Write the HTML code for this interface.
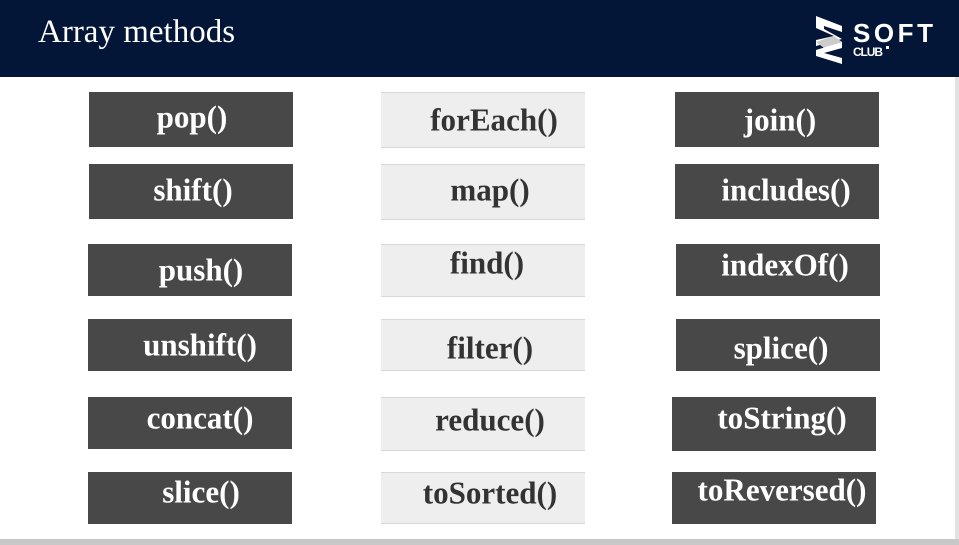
<!DOCTYPE html>
<html><head><meta charset="utf-8"><style>
body{margin:0;width:959px;height:545px;overflow:hidden;background:#fff;position:relative;font-family:"Liberation Serif",serif;}
.hdr{position:absolute;left:0;top:0;width:959px;height:77px;background:#031637;}
.title{position:absolute;left:38px;top:14px;color:#fff;font-size:33px;font-family:"Liberation Serif",serif;white-space:nowrap;}
.b{position:absolute;width:204px;}
.d{background:#484848;}
.l{background:#eeeeee;border-top:1px solid #d8d8d8;border-bottom:1px solid #d8d8d8;box-sizing:border-box;}
.t{position:absolute;transform:translate(-50%,-50%) scaleX(0.97);font-weight:bold;font-size:32px;white-space:nowrap;}
.w{color:#fff}.k{color:#333}
.bot{position:absolute;left:0;top:539px;width:959px;height:6px;background:#c8c8c8;}
.rs{position:absolute;left:955px;top:77px;width:4px;height:468px;background:#e2e2e2;}
</style></head><body>
<div class="hdr"></div>
<div class="title">Array methods</div>
<svg style="position:absolute;left:812px;top:12px" width="130" height="56">
<polygon points="4,4 30,14 30,20 12,14 12,17 30,27 4,34 4,28 22,24 4,16" fill="#fff"/>
<polygon points="4,30 22,24 30,30 12,36" fill="#ccc"/>
<polygon points="4,38 30,30 30,36 12,41 30,46 30,52 4,44" fill="#fff"/>
<text x="41" y="30" fill="#fff" font-family="Liberation Sans" font-weight="bold" font-size="26" textLength="80">SOFT</text>
<text x="41" y="44" fill="#fff" font-family="Liberation Sans" font-weight="bold" font-size="12" textLength="30">CLUB</text>
<rect x="74" y="34" width="3" height="3" fill="#fff"/>
</svg>
<div class="rs"></div>
<div class="bot"></div>

<div class="b d" style="left:89px;top:92px;height:55px"></div>
<div class="b d" style="left:89px;top:164px;height:55px"></div>
<div class="b d" style="left:88px;top:244px;height:52px"></div>
<div class="b d" style="left:88px;top:319px;height:52px"></div>
<div class="b d" style="left:88px;top:397px;height:52px"></div>
<div class="b d" style="left:88px;top:472px;height:52px"></div>

<div class="b l" style="left:381px;top:92px;height:56px"></div>
<div class="b l" style="left:381px;top:164px;height:56px"></div>
<div class="b l" style="left:381px;top:244px;height:53px"></div>
<div class="b l" style="left:381px;top:319px;height:52px"></div>
<div class="b l" style="left:381px;top:397px;height:54px"></div>
<div class="b l" style="left:381px;top:472px;height:52px"></div>

<div class="b d" style="left:675px;top:92px;height:55px"></div>
<div class="b d" style="left:675px;top:164px;height:55px"></div>
<div class="b d" style="left:676px;top:244px;height:52px"></div>
<div class="b d" style="left:676px;top:319px;height:52px"></div>
<div class="b d" style="left:672px;top:397px;height:54px"></div>
<div class="b d" style="left:672px;top:472px;height:52px"></div>

<div class="t w" style="left:192px;top:117px">pop()</div>
<div class="t w" style="left:193px;top:190px">shift()</div>
<div class="t w" style="left:201px;top:270px">push()</div>
<div class="t w" style="left:200px;top:345px">unshift()</div>
<div class="t w" style="left:200px;top:418px">concat()</div>
<div class="t w" style="left:201px;top:492px">slice()</div>

<div class="t k" style="left:494px;top:120px">forEach()</div>
<div class="t k" style="left:490px;top:190px">map()</div>
<div class="t k" style="left:487px;top:263px">find()</div>
<div class="t k" style="left:490px;top:348px">filter()</div>
<div class="t k" style="left:490px;top:420px">reduce()</div>
<div class="t k" style="left:490px;top:493px">toSorted()</div>

<div class="t w" style="left:780px;top:120px">join()</div>
<div class="t w" style="left:786px;top:190px">includes()</div>
<div class="t w" style="left:785px;top:265px">indexOf()</div>
<div class="t w" style="left:781px;top:348px">splice()</div>
<div class="t w" style="left:782px;top:418px">toString()</div>
<div class="t w" style="left:782px;top:490px">toReversed()</div>
</body></html>
